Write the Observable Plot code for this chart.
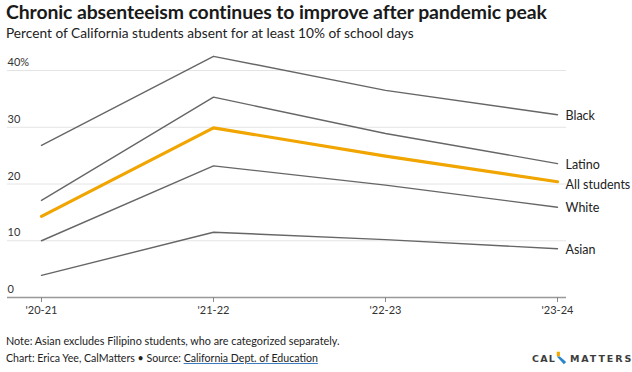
<!DOCTYPE html>
<html><head><meta charset="utf-8">
<script src="https://cdn.jsdelivr.net/npm/d3@7"></script>
<script src="https://cdn.jsdelivr.net/npm/@observablehq/plot@0.6"></script>
<style>
body{margin:0;background:#fff;font-family:Lato,"Noto Sans",sans-serif;color:#222;}
#wrap{position:relative;width:632px;height:372px;overflow:hidden;}
#title{position:absolute;left:6px;top:0px;font-size:19.4px;font-weight:700;color:#1a1a1a;white-space:nowrap;letter-spacing:-0.1px;}
#sub{position:absolute;left:6px;top:24px;font-size:13.7px;color:#222;white-space:nowrap;}
#chart{position:absolute;left:0;top:40px;}
#note{position:absolute;left:6px;top:334px;font-size:10.8px;color:#222;white-space:nowrap;}
#credit{position:absolute;left:6px;top:352px;font-size:10.6px;color:#222;white-space:nowrap;}
#credit u{text-decoration-color:#3a7bbf;}
#logo{position:absolute;left:532px;top:351px;font-family:"DejaVu Sans",sans-serif;font-size:9.5px;font-weight:700;color:#3d3d3d;white-space:nowrap;display:flex;align-items:center;}
#logo .a{letter-spacing:1.2px;}
#logo .b{letter-spacing:1.9px;}
</style></head>
<body><div id="wrap">
<div id="title">Chronic absenteeism continues to improve after pandemic peak</div>
<div id="sub">Percent of California students absent for at least 10% of school days</div>
<div id="chart"></div>
<div id="note">Note: Asian excludes Filipino students, who are categorized separately.</div>
<div id="credit">Chart: Erica Yee, CalMatters • Source: <u>California Dept. of Education</u></div>
<div id="logo"><span class="a">CAL</span><svg width="11" height="14" viewBox="0 0 14 16" style="margin:0 3px 0 0"><path d="M1 0 L5 0 L5 6 L1 6 Z" fill="#f2a900"/><path d="M1 6 L5 6 L13 13 L10 16 Z" fill="#2a86c8"/></svg><span class="b">MATTERS</span></div>
</div>
<script>
const years = ["'20-21", "'21-22", "'22-23", "'23-24"];
const black = [26.8, 42.5, 36.5, 32.2];
const latino = [17.1, 35.3, 28.9, 23.6];
const allStudents = [14.3, 29.9, 24.9, 20.4];
const white = [10.0, 23.2, 19.8, 15.9];
const asian = [3.9, 11.5, 10.2, 8.6];
const groupNames = ["Black", "Latino", "All students", "White", "Asian"];
const groupValues = [black, latino, allStudents, white, asian];
const yTicks = [0, 10, 20, 30, 40];

const rows = [];
groupNames.forEach((g, i) => groupValues[i].forEach((v, j) => rows.push({group: g, year: years[j], value: v})));
const grays = rows.filter(d => d.group !== "All students");
const all = rows.filter(d => d.group === "All students");
const ends = rows.filter(d => d.year === years[years.length - 1]);

const chart = Plot.plot({
  width: 632,
  height: 280,
  marginLeft: 40,
  marginRight: 74,
  marginTop: 30,
  marginBottom: 23,
  style: {fontFamily: "Lato, 'Noto Sans', sans-serif", color: "#333", background: "transparent"},
  x: {type: "point", domain: years, padding: 0},
  y: {domain: [0, 40]},
  marks: [
    Plot.ruleY(yTicks.filter(t => t > 0), {stroke: "#e4e4e4", strokeWidth: 1, insetLeft: -33, insetRight: -8}),
    Plot.ruleY([0], {stroke: "#999", strokeWidth: 1.3, insetLeft: -33, insetRight: -8}),
    Plot.text(yTicks, {y: d => d, text: d => d === 40 ? "40%" : String(d), frameAnchor: "left", textAnchor: "start", dx: -33, dy: -8, fontSize: 11, fill: "#333"}),
    Plot.axisX({tickSize: 5, tickPadding: 4, fontSize: 11, stroke: "#888", label: null, color: "#333"}),
    Plot.axisY({ticks: [], label: null}),
    Plot.line(grays, {x: "year", y: "value", z: "group", stroke: "#666", strokeWidth: 1.4}),
    Plot.line(all, {x: "year", y: "value", stroke: "#f0a500", strokeWidth: 3.2}),
    Plot.text(ends.filter(d => d.group !== "All students"), {x: "year", y: "value", text: "group", textAnchor: "start", dx: 8, dy: 1, fontSize: 12.5, fill: "#222"}),
    Plot.text(ends.filter(d => d.group === "All students"), {x: "year", y: "value", text: "group", textAnchor: "start", dx: 8, dy: 3, fontSize: 12.5, fill: "#222"})
  ]
});
document.getElementById("chart").appendChild(chart);
</script>
</body></html>
